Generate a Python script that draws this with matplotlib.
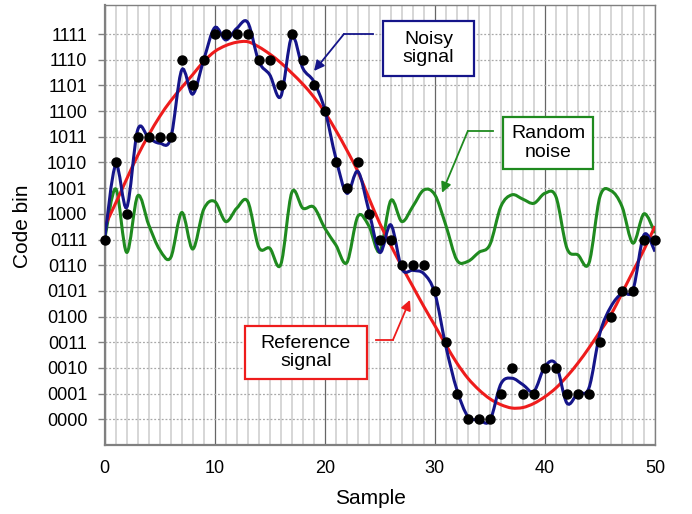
import matplotlib
matplotlib.use('Agg')
import matplotlib.pyplot as plt
from matplotlib.path import Path
from matplotlib.patches import PathPatch, Rectangle
import numpy as np

plt.rcParams['font.family'] = ['Liberation Sans', 'DejaVu Sans']

# sample index, 0..50
samples = list(range(51))

# quantized output code for each sample (black dots)
codes = [7, 10, 8, 11, 11, 11, 11, 14, 13, 14,
         15, 15, 15, 15, 14, 14, 13, 15, 14, 13,
         12, 10, 9, 10, 8, 7, 7, 6, 6, 6,
         5, 3, 1, 0, 0, 0, 1, 2, 1, 1,
         2, 2, 1, 1, 1, 3, 4, 5, 5, 7, 7]

# reference sine (red)
reference = [7.51, 8.42, 9.36, 10.27, 11.07, 11.79, 12.40, 12.92, 13.42, 13.93,
             14.32, 14.55, 14.68, 14.70, 14.50, 14.22, 13.88, 13.48, 13.05, 12.55,
             11.95, 11.25, 10.48, 9.65, 8.62, 7.62, 6.77, 5.95, 5.17, 4.39,
             3.65, 2.90, 2.19, 1.60, 1.15, 0.80, 0.57, 0.44, 0.46, 0.62,
             0.88, 1.22, 1.67, 2.19, 2.78, 3.42, 4.07, 4.91, 5.76, 6.60, 7.52]

# noisy signal (blue)
noisy = [7.05, 9.91, 8.25, 11.27, 10.95, 10.75, 10.94, 13.60, 12.66, 14.00,
         15.25, 14.77, 15.22, 15.45, 13.93, 13.41, 12.57, 14.90, 13.67, 13.15,
         12.05, 10.17, 8.80, 9.65, 8.12, 6.50, 7.57, 5.86, 5.80, 5.67,
         4.91, 2.84, 1.15, 0.11, -0.02, -0.05, 1.38, 1.60, 1.35, 1.09,
         2.06, 2.15, 0.63, 1.02, 1.22, 3.36, 4.39, 4.91, 5.04, 7.18, 6.53]

# random noise (green), offset to mid-scale
noise = [7.00, 8.97, 6.50, 8.70, 7.57, 6.60, 6.30, 8.05, 6.63, 8.18,
         8.48, 7.70, 8.22, 8.48, 6.70, 6.66, 6.03, 8.83, 8.22, 8.26,
         7.44, 6.79, 6.10, 7.90, 7.53, 6.53, 8.52, 7.70, 8.29, 8.93,
         8.74, 7.55, 6.20, 6.15, 6.50, 6.80, 8.29, 8.74, 8.57, 8.41,
         8.80, 8.67, 6.66, 6.40, 6.08, 8.67, 8.90, 8.29, 6.86, 8.00, 7.25]

code_labels = ['0000', '0001', '0010', '0011', '0100', '0101', '0110', '0111',
               '1000', '1001', '1010', '1011', '1100', '1101', '1110', '1111']
x_labels = ['0', '10', '20', '30', '40', '50']


def smooth_path(x, y):
    # excel-like smoothed line: catmull-rom segments as cubic beziers
    pts = np.column_stack([x, y]).astype(float)
    verts = [pts[0]]
    kinds = [Path.MOVETO]
    n = len(pts)
    for i in range(n - 1):
        p0 = pts[max(i - 1, 0)]
        p1 = pts[i]
        p2 = pts[i + 1]
        p3 = pts[min(i + 2, n - 1)]
        verts += [p1 + (p2 - p0) / 6, p2 - (p3 - p1) / 6, p2]
        kinds += [Path.CURVE4] * 3
    return Path(verts, kinds)


fig = plt.figure(figsize=(6.92, 5.14), dpi=100)
ax = fig.add_axes([0.1513, 0.1342, 0.7952, 0.8561])

ax.set_xlim(0, 50)
ax.set_ylim(-1.0, 16.13)

# grid
ax.set_xticks(range(0, 51, 10))
ax.set_xticks(range(0, 51), minor=True)
ax.set_xticklabels(x_labels, fontsize=13)
ax.set_yticks(range(16))
ax.set_yticklabels(code_labels, fontsize=13)
ax.grid(which='minor', axis='x', color='#cfcfcf', lw=1.2, ls='-')
ax.grid(which='major', axis='x', color='#666666', lw=0.9, ls='-')
ax.grid(which='major', axis='y', color='#a8a8a8', lw=0.9, ls=(0, (1.5, 1.5)))
ax.axhline(7.5, color='#666666', lw=0.9, zorder=1)
ax.set_axisbelow(True)

ax.tick_params(axis='x', which='both', length=0, pad=11, colors='black')
ax.tick_params(axis='y', length=5, width=1, pad=7.5, color='#808080')
for side in ['left', 'bottom']:
    ax.spines[side].set_color('#808080')
    ax.spines[side].set_linewidth(1.6)
for side in ['top', 'right']:
    ax.spines[side].set_color('#808080')
    ax.spines[side].set_linewidth(1.0)

# curves
ax.add_patch(PathPatch(smooth_path(samples, noise), fc='none', ec='#1f8a1f', lw=2.2, zorder=3))
ax.add_patch(PathPatch(smooth_path(samples, reference), fc='none', ec='#ee1c1c', lw=2.2, zorder=4))
ax.add_patch(PathPatch(smooth_path(samples, noisy), fc='none', ec='#15158a', lw=2.2, zorder=5))
ax.plot(samples, codes, 'o', color='black', ms=6.5, zorder=6, clip_on=False)

# axis titles placed where the reference has them
fig.text(0.5347, 0.031, 'Sample', fontsize=15, ha='center', va='center')
fig.text(0.0332, 0.560, 'Code bin', fontsize=15, ha='center', va='center', rotation=90)

# callout boxes with arrows
callouts = [
    ('Noisy\nsignal', '#15158a', (25.28, 13.37, 8.27, 2.14),
     [(24.38, 15.0), (21.74, 15.0)], (19.02, 13.56)),
    ('Random\nnoise', '#1f8a1f', (36.19, 9.75, 8.18, 2.02),
     [(35.28, 11.23), (33.0, 11.23)], (30.65, 8.82)),
    ('Reference\nsignal', '#ee1c1c', (12.75, 1.58, 11.08, 2.06),
     [(24.65, 3.10), (26.2, 3.10)], (27.74, 4.65)),
]
for text, col, (bx, by, bw, bh), line, head in callouts:
    ax.add_patch(Rectangle((bx, by), bw, bh, fc='white', ec=col, lw=1.6, zorder=7))
    ax.text(bx + bw / 2, by + bh / 2, text, ha='center', va='center',
            fontsize=14, linespacing=1.1, zorder=8)
    ax.plot([p[0] for p in line], [p[1] for p in line], color=col, lw=1.3, zorder=7)
    ax.annotate('', xy=head, xytext=line[-1],
                arrowprops=dict(arrowstyle='-|>,head_length=0.6,head_width=0.3',
                                color=col, lw=1.3, shrinkA=0, shrinkB=0),
                zorder=7)

fig.savefig('out.png', dpi=100)
